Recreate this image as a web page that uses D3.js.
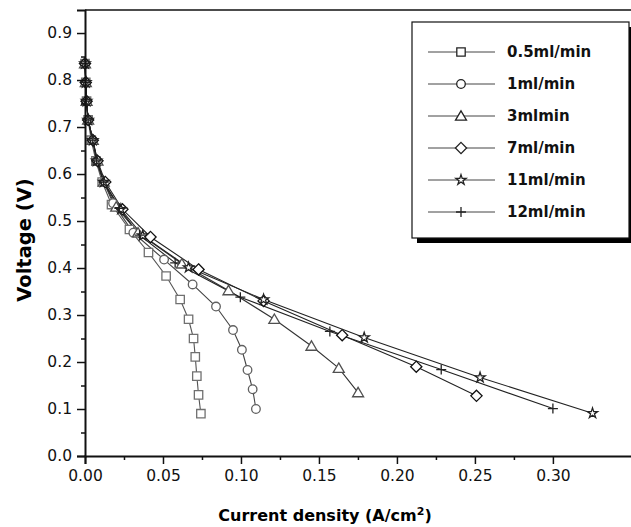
<!DOCTYPE html>
<html>
<head>
<meta charset="utf-8">
<script src="https://cdn.jsdelivr.net/npm/d3@7"></script>
<style>
  body { margin: 0; background: #fff; }
  svg { display: block; }
  .tick text { font-family: "DejaVu Sans", sans-serif; font-size: 15.5px; fill: #111; }
</style>
</head>
<body>
<div id="chart"></div>
<script>
// series names shown in the legend
var seriesNames = ["0.5ml/min", "1ml/min", "3mlmin", "7ml/min", "11ml/min", "12ml/min"];

// current density (A/cm2) and voltage (V) per flow rate
var current05 = [0, 0.0005, 0.001, 0.002, 0.004, 0.007, 0.011, 0.017, 0.0285, 0.0407, 0.052, 0.061, 0.0664, 0.0696, 0.0707, 0.0717, 0.0728, 0.0743];
var voltage05 = [0.835, 0.795, 0.755, 0.715, 0.672, 0.628, 0.583, 0.535, 0.482, 0.433, 0.383, 0.333, 0.291, 0.250, 0.211, 0.170, 0.130, 0.090];

var current1 = [0, 0.0005, 0.001, 0.002, 0.005, 0.0075, 0.012, 0.018, 0.031, 0.0507, 0.069, 0.084, 0.0949, 0.1006, 0.1042, 0.1075, 0.1096];
var voltage1 = [0.835, 0.795, 0.755, 0.715, 0.672, 0.628, 0.583, 0.538, 0.475, 0.418, 0.365, 0.318, 0.268, 0.226, 0.183, 0.142, 0.100];

var current3 = [0, 0.0005, 0.001, 0.002, 0.005, 0.008, 0.012, 0.02, 0.034, 0.0621, 0.092, 0.1214, 0.1452, 0.1627, 0.1751];
var voltage3 = [0.835, 0.795, 0.755, 0.715, 0.672, 0.628, 0.583, 0.53, 0.475, 0.409, 0.352, 0.291, 0.234, 0.187, 0.135];

var current7 = [0, 0.0005, 0.001, 0.002, 0.005, 0.008, 0.013, 0.024, 0.042, 0.0728, 0.1145, 0.1649, 0.2124, 0.251];
var voltage7 = [0.835, 0.795, 0.755, 0.715, 0.672, 0.628, 0.583, 0.525, 0.466, 0.397, 0.33, 0.257, 0.19, 0.128];

var current11 = [0, 0.0005, 0.001, 0.002, 0.005, 0.0075, 0.012, 0.023, 0.037, 0.0664, 0.1145, 0.179, 0.2533, 0.3254];
var voltage11 = [0.835, 0.795, 0.755, 0.715, 0.672, 0.628, 0.583, 0.525, 0.469, 0.401, 0.333, 0.252, 0.167, 0.091];

var current12 = [0, 0.0005, 0.001, 0.002, 0.005, 0.0075, 0.012, 0.022, 0.035, 0.0578, 0.0996, 0.157, 0.2284, 0.300];
var voltage12 = [0.835, 0.795, 0.755, 0.715, 0.672, 0.628, 0.583, 0.527, 0.47, 0.411, 0.338, 0.265, 0.184, 0.101];

// axis ticks
var xTicks = [0, 0.05, 0.10, 0.15, 0.20, 0.25, 0.30];
var xMinorTicks = [0.025, 0.075, 0.125, 0.175, 0.225, 0.275];
var yTicks = [0, 0.1, 0.2, 0.3, 0.4, 0.5, 0.6, 0.7, 0.8, 0.9];
var yMinorTicks = [0.05, 0.15, 0.25, 0.35, 0.45, 0.55, 0.65, 0.75, 0.85];

var W = 631, H = 527;
var margin = { top: 10, left: 85, bottom: 71, right: -3 };

var series = [
  { name: seriesNames[0], x: current05, y: voltage05, shape: "square",   stroke: "#707070", line: "#555" },
  { name: seriesNames[1], x: current1,  y: voltage1,  shape: "circle",   stroke: "#606060", line: "#444" },
  { name: seriesNames[2], x: current3,  y: voltage3,  shape: "triangle", stroke: "#505050", line: "#333" },
  { name: seriesNames[3], x: current7,  y: voltage7,  shape: "diamond",  stroke: "#111",    line: "#222" },
  { name: seriesNames[4], x: current11, y: voltage11, shape: "star",     stroke: "#222",    line: "#222" },
  { name: seriesNames[5], x: current12, y: voltage12, shape: "plus",     stroke: "#222",    line: "#222" }
];

var svg = d3.select("#chart").append("svg")
  .attr("width", W)
  .attr("height", H);

var x = d3.scaleLinear().domain([0, 0.352]).range([margin.left, W - margin.right]);
var y = d3.scaleLinear().domain([0, 0.949]).range([H - margin.bottom, margin.top]);

// marker paths centred on 0,0
function markerPath(shape) {
  if (shape == "square") return "M-4.2,-4.2H4.2V4.2H-4.2Z";
  if (shape == "circle") return "M4.3,0A4.3,4.3 0 1,1 -4.3,0A4.3,4.3 0 1,1 4.3,0Z";
  if (shape == "triangle") return "M0,-5.2L5.5,4.2H-5.5Z";
  if (shape == "diamond") return "M0,-5.6L5.6,0L0,5.6L-5.6,0Z";
  if (shape == "star") return d3.symbol().type(d3.symbolStar).size(32)();
  return "M-5,0H5M0,-5V5";
}

// top frame line
svg.append("line")
  .attr("x1", margin.left).attr("x2", W)
  .attr("y1", margin.top).attr("y2", margin.top)
  .attr("stroke", "#111").attr("stroke-width", 1.6);

// lines and markers
var line = d3.line()
  .x(function(d) { return x(d[0]); })
  .y(function(d) { return y(d[1]); });

series.forEach(function(s) {
  var pts = s.x.map(function(v, i) { return [v, s.y[i]]; });
  svg.append("path")
    .attr("d", line(pts))
    .attr("fill", "none")
    .attr("stroke", s.line)
    .attr("stroke-width", 1.1);
});

series.forEach(function(s) {
  var pts = s.x.map(function(v, i) { return [v, s.y[i]]; });
  svg.selectAll(null)
    .data(pts)
    .enter()
    .append("path")
    .attr("d", markerPath(s.shape))
    .attr("transform", function(d) { return "translate(" + x(d[0]) + "," + y(d[1]) + ")"; })
    .attr("fill", s.shape == "plus" ? "none" : "#fff")
    .attr("stroke", s.stroke)
    .attr("stroke-width", 1.3);
});

// axes
svg.append("g")
  .attr("transform", "translate(0," + (H - margin.bottom) + ")")
  .call(d3.axisBottom(x).tickValues(xTicks).tickFormat(d3.format(".2f")).tickSize(8).tickPadding(6));
svg.append("g")
  .attr("transform", "translate(0," + (H - margin.bottom) + ")")
  .call(d3.axisBottom(x).tickValues(xMinorTicks).tickFormat("").tickSize(4))
  .select(".domain").remove();

svg.append("g")
  .attr("transform", "translate(" + margin.left + ",0)")
  .call(d3.axisLeft(y).tickValues(yTicks).tickFormat(d3.format(".1f")).tickSize(8).tickPadding(5));
svg.append("g")
  .attr("transform", "translate(" + margin.left + ",0)")
  .call(d3.axisLeft(y).tickValues(yMinorTicks).tickFormat("").tickSize(4))
  .select(".domain").remove();

svg.selectAll(".domain").attr("stroke", "#111").attr("stroke-width", 2);
svg.selectAll(".tick line").attr("stroke", "#111").attr("stroke-width", 1.5);

// axis titles
svg.append("text")
  .attr("x", 325)
  .attr("y", 521)
  .attr("text-anchor", "middle")
  .style("font-family", "DejaVu Sans, sans-serif")
  .style("font-weight", "bold")
  .style("font-size", "16px")
  .html("Current density (A/cm<tspan dy='-6' font-size='11px'>2</tspan><tspan dy='6'>)</tspan>");

svg.append("text")
  .attr("transform", "translate(31,240) rotate(-90)")
  .attr("text-anchor", "middle")
  .style("font-family", "DejaVu Sans, sans-serif")
  .style("font-weight", "bold")
  .style("font-size", "19.5px")
  .text("Voltage (V)");

// legend box with drop shadow
var legend = svg.append("g");
legend.append("rect")
  .attr("x", 417).attr("y", 27)
  .attr("width", 217).attr("height", 216)
  .attr("fill", "#000");
legend.append("rect")
  .attr("x", 412).attr("y", 22)
  .attr("width", 217).attr("height", 216)
  .attr("fill", "#fff")
  .attr("stroke", "#111")
  .attr("stroke-width", 1.2);

var rowY = d3.scalePoint().domain(seriesNames).range([52, 212]);

var item = legend.selectAll(".item")
  .data(series)
  .enter()
  .append("g")
  .attr("class", "item")
  .attr("transform", function(d) { return "translate(0," + rowY(d.name) + ")"; });

item.append("line")
  .attr("x1", 428).attr("x2", 495)
  .attr("stroke", "#444").attr("stroke-width", 1);

item.append("path")
  .attr("d", function(d) { return markerPath(d.shape); })
  .attr("transform", "translate(461,0)")
  .attr("fill", function(d) { return d.shape == "plus" ? "none" : "#fff"; })
  .attr("stroke", "#222")
  .attr("stroke-width", 1.3);

item.append("text")
  .attr("x", 507)
  .attr("dy", "0.36em")
  .style("font-family", "DejaVu Sans, sans-serif")
  .style("font-weight", "bold")
  .style("font-size", "15px")
  .style("fill", "#111")
  .text(function(d) { return d.name; });
</script>
</body>
</html>
